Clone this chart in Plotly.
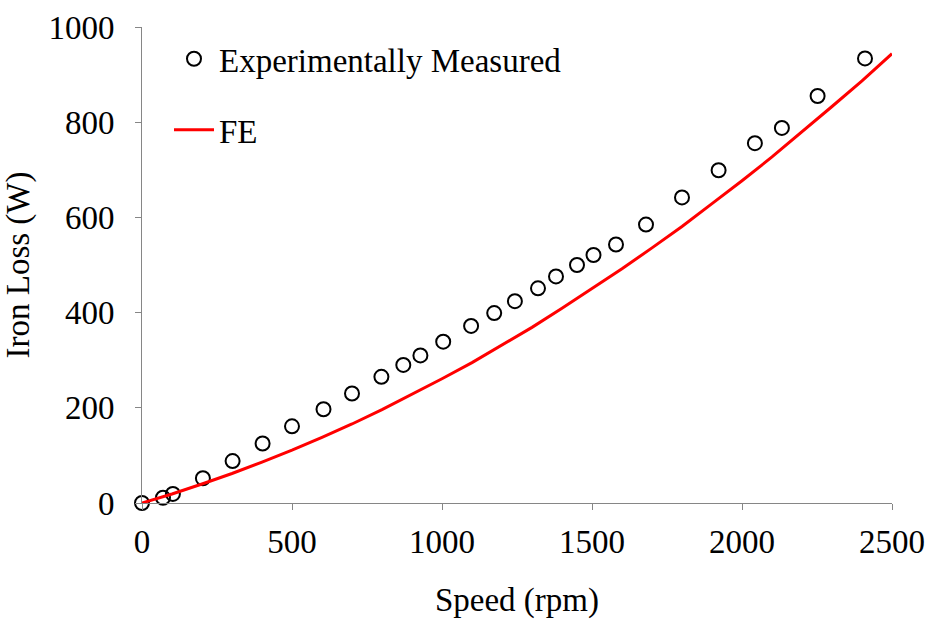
import plotly.graph_objects as go

# Experimentally measured iron loss
speed_meas = [0, 70, 103, 203, 302, 402, 500, 605, 700, 798, 871, 928, 1004, 1097, 1174, 1243, 1320, 1380, 1450, 1505, 1580, 1680, 1800, 1922, 2043, 2133, 2252, 2410]
loss_meas = [0, 11, 19, 52, 88, 125, 161, 197, 230, 265, 290, 310, 339, 372, 399, 424, 451, 476, 500, 521, 543, 585, 642, 699, 756, 788, 855, 934]

# FE prediction
speed_fe = [0, 100, 200, 300, 400, 500, 600, 700, 800, 900, 1000, 1100, 1200, 1300, 1400, 1500, 1600, 1700, 1800, 1900, 2000, 2100, 2200, 2300, 2400, 2500]
loss_fe = [0, 19, 40, 62, 86, 111, 138, 166, 196, 228, 261, 295, 332, 369, 409, 450, 492, 536, 581, 629, 677, 727, 779, 833, 887, 944]

x_ticks = [0, 500, 1000, 1500, 2000, 2500]
y_ticks = [0, 200, 400, 600, 800, 1000]

FONT = "Liberation Serif, Times New Roman, serif"
FS = 33

fig = go.Figure()
fig.add_trace(go.Scatter(
    x=speed_meas, y=loss_meas, mode="markers", name="Experimentally Measured",
    marker=dict(symbol="circle-open", size=14, color="black", line=dict(width=2, color="black")),
    cliponaxis=False, legendgroup="a",
))
fig.add_trace(go.Scatter(
    x=speed_fe, y=loss_fe, mode="lines", name="FE",
    line=dict(color="#ff0000", width=3), legendgroup="b",
))

axis_common = dict(
    showgrid=False, zeroline=False, showline=True, linecolor="#868686", linewidth=1,
    ticks="outside", ticklen=6, tickcolor="#868686", tickwidth=1,
    tickfont=dict(family=FONT, size=FS, color="black"), automargin=False,
)
fig.update_xaxes(range=[0, 2500], tickvals=x_ticks, ticktext=[str(v) for v in x_ticks],
                 ticklabelstandoff=3,
                 title=dict(text="Speed (rpm)", font=dict(family=FONT, size=FS, color="black"), standoff=36),
                 **axis_common)
fig.update_yaxes(range=[0, 1000], tickvals=y_ticks, ticktext=[str(v) for v in y_ticks],
                 ticklabelstandoff=14,
                 title=dict(text="Iron Loss (W)", font=dict(family=FONT, size=FS, color="black"), standoff=14),
                 **axis_common)

fig.update_layout(
    width=931, height=619,
    margin=dict(l=142, r=39, t=27, b=116),
    plot_bgcolor="white", paper_bgcolor="white",
    font=dict(family=FONT, size=FS, color="black"),
    legend=dict(x=0.036, y=0.992, xanchor="left", yanchor="top", bgcolor="rgba(0,0,0,0)",
                font=dict(family=FONT, size=FS, color="black"), tracegroupgap=25,
                traceorder="grouped", itemwidth=40),
)

fig.write_html("out.html")
